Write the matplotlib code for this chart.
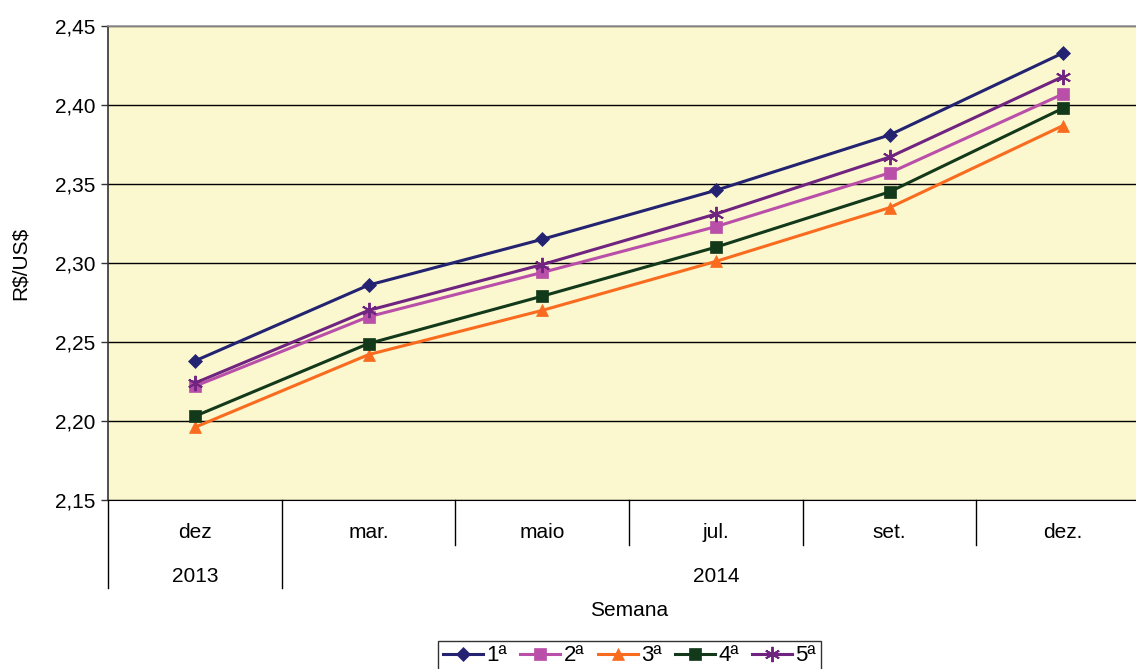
import matplotlib.pyplot as plt
from matplotlib.ticker import FuncFormatter

plt.rcParams['font.family'] = ['Liberation Sans', 'DejaVu Sans']

meses = ['dez', 'mar.', 'maio', 'jul.', 'set.', 'dez.']
anos = ['2013', '2014']
meses_por_ano = [1, 5]

semana1 = [2.238, 2.286, 2.315, 2.346, 2.381, 2.433]
semana2 = [2.222, 2.266, 2.294, 2.323, 2.357, 2.407]
semana3 = [2.196, 2.242, 2.270, 2.301, 2.335, 2.387]
semana4 = [2.203, 2.249, 2.279, 2.310, 2.345, 2.398]
semana5 = [2.224, 2.270, 2.299, 2.331, 2.367, 2.418]

series = [
    ('1ª', semana1, '#232372', 'D', 7.5),
    ('2ª', semana2, '#B94FA8', 's', 8.5),
    ('3ª', semana3, '#F96B1E', '^', 8.5),
    ('4ª', semana4, '#12391A', 's', 8.5),
    ('5ª', semana5, '#6F2480', (6, 2, 0), 11),
]

FS = 15

fig = plt.figure(figsize=(11.36, 6.69), dpi=100)
ax = fig.add_axes([108 / 1136, 1 - 500 / 669, 1042 / 1136, 474 / 669])
ax.set_facecolor('#FBF7CF')

x = list(range(len(meses)))
for nome, vals, cor, marc, tam in series:
    ax.plot(x, vals, color=cor, lw=2.2, marker=marc, markersize=tam,
            markeredgewidth=1.4 if marc == (6, 2, 0) else 0.5,
            markeredgecolor=cor, label=nome)

ax.set_xlim(-0.5, len(meses) - 0.5)
ax.set_ylim(2.15, 2.45)
ax.set_yticks([2.15, 2.20, 2.25, 2.30, 2.35, 2.40, 2.45])
ax.yaxis.set_major_formatter(FuncFormatter(lambda v, p: f'{v:.2f}'.replace('.', ',')))
ax.tick_params(axis='y', labelsize=FS, length=5, width=1, color='#333333', pad=4)
ax.set_xticks([])
ax.grid(axis='y', color='black', lw=1)
ax.set_axisbelow(True)

ax.spines['right'].set_visible(False)
ax.spines['top'].set_color('#999999')
ax.spines['top'].set_linewidth(1.2)
ax.spines['left'].set_color('#333333')
ax.spines['left'].set_linewidth(1.2)
ax.spines['bottom'].set_color('black')

ax.set_ylabel(r'R\$/US\$', fontsize=FS, labelpad=18)

# category labels in two rows: months, then years
tr = ax.get_xaxis_transform()
h = 474
for i, m in enumerate(meses):
    ax.text(i, -32 / h, m, transform=tr, ha='center', va='center', fontsize=FS)

inicio = 0
limites_ano = [-0.5]
for ano, n in zip(anos, meses_por_ano):
    centro = inicio + (n - 1) / 2
    ax.text(centro, -76 / h, ano, transform=tr, ha='center', va='center', fontsize=FS)
    inicio += n
    limites_ano.append(inicio - 0.5)

for b in [i - 0.5 for i in range(len(meses))]:
    fundo = -88 / h if b in limites_ano else -45 / h
    ax.plot([b, b], [0, fundo], transform=tr, color='black', lw=1, clip_on=False)

ax.text((629 - 108) / 1042, -110 / h, 'Semana', transform=ax.transAxes,
        ha='center', va='center', fontsize=FS)

leg = fig.legend(loc='upper center', bbox_to_anchor=(629.5 / 1136, 1 - 641 / 669),
                 ncol=5, fontsize=16, frameon=True, fancybox=False,
                 edgecolor='black', handlelength=1.8, handletextpad=0.15,
                 columnspacing=0.6, borderpad=0.2, borderaxespad=0)
leg.get_frame().set_linewidth(1)

fig.savefig('out.png', dpi=100, facecolor='white')
